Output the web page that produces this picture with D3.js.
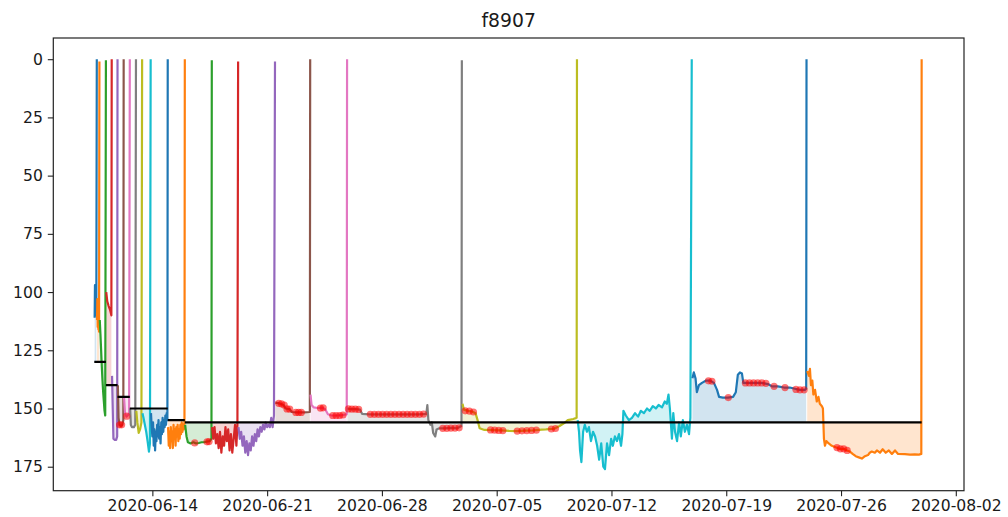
<!DOCTYPE html>
<html>
<head>
<meta charset="utf-8">
<script src="https://cdn.jsdelivr.net/npm/d3@7"></script>
<style>
  body { margin: 0; background: #fff; }
  text { font-family: "DejaVu Sans", sans-serif; }
</style>
</head>
<body>
<div id="chart"></div>
<script>
// each segment: [time, value]; a segment ends with a reset to ~0
var seg01 = [["2020-06-10 11:30",111],["2020-06-10 12:00",97],["2020-06-10 12:30",108],["2020-06-10 13:00",100],["2020-06-10 13:30",110],["2020-06-10 14:00",104],["2020-06-10 14:40",0]];
var seg02 = [["2020-06-10 15:00",112],["2020-06-10 15:30",103],["2020-06-10 16:00",115],["2020-06-10 16:30",108],["2020-06-10 17:00",116],["2020-06-10 17:30",112],["2020-06-10 18:00",117],["2020-06-10 18:30",1]];
var seg03 = [["2020-06-10 19:00",112],["2020-06-10 20:00",118],["2020-06-10 21:00",125],["2020-06-10 22:00",132],["2020-06-10 23:00",138],["2020-06-11 00:00",143],["2020-06-11 01:00",147],["2020-06-11 02:00",151],["2020-06-11 03:00",153],["2020-06-11 04:00",0.5]];
var seg04 = [["2020-06-11 04:30",100],["2020-06-11 06:00",104],["2020-06-11 08:00",106],["2020-06-11 10:00",107.5],["2020-06-11 12:00",110],["2020-06-11 12:30",0]];
var seg05 = [["2020-06-11 13:00",136],["2020-06-11 14:00",150],["2020-06-11 15:00",163],["2020-06-11 17:00",163.5],["2020-06-11 19:00",163.5],["2020-06-11 20:30",162],["2020-06-11 21:00",0]];
var seg06 = [["2020-06-11 21:30",140],["2020-06-11 22:30",154],["2020-06-12 00:00",157],["2020-06-12 02:00",157.5],["2020-06-12 04:00",157],["2020-06-12 05:30",155],["2020-06-12 06:00",0]];
var seg07 = [["2020-06-12 06:30",145],["2020-06-12 08:00",152],["2020-06-12 10:00",153.5],["2020-06-12 12:00",153],["2020-06-12 14:00",152],["2020-06-12 15:00",0]];
var seg08 = [["2020-06-12 15:30",150],["2020-06-12 16:30",157],["2020-06-12 18:00",158],["2020-06-12 21:00",158],["2020-06-12 23:00",157],["2020-06-13 00:00",0]];
var seg09 = [["2020-06-13 00:30",151],["2020-06-13 02:00",156],["2020-06-13 04:00",160.5],["2020-06-13 06:00",159],["2020-06-13 08:00",156],["2020-06-13 09:00",0]];
var seg10 = [["2020-06-13 09:30",152],["2020-06-13 11:00",154],["2020-06-13 13:00",157],["2020-06-13 15:00",160],["2020-06-13 17:00",164],["2020-06-13 19:00",168.5],["2020-06-13 20:30",165],["2020-06-13 21:30",0]];
var seg11 = [["2020-06-13 22:00",152],["2020-06-13 23:00",158],["2020-06-14 00:00",162],["2020-06-14 01:00",156],["2020-06-14 02:00",166],["2020-06-14 03:00",159],["2020-06-14 04:00",168],["2020-06-14 05:00",160],["2020-06-14 06:00",164],["2020-06-14 07:00",157],["2020-06-14 08:00",162],["2020-06-14 09:00",155],["2020-06-14 10:00",163],["2020-06-14 11:00",158],["2020-06-14 12:00",165],["2020-06-14 13:00",156],["2020-06-14 14:00",161],["2020-06-14 15:00",154],["2020-06-14 16:00",160],["2020-06-14 17:00",155],["2020-06-14 18:00",158],["2020-06-14 19:00",153],["2020-06-14 20:00",157],["2020-06-14 21:00",152],["2020-06-14 22:00",155],["2020-06-14 22:30",0]];
var seg12 = [["2020-06-14 23:00",158],["2020-06-15 00:00",166],["2020-06-15 01:00",160],["2020-06-15 02:00",167],["2020-06-15 03:00",158],["2020-06-15 04:00",164],["2020-06-15 05:00",160],["2020-06-15 06:00",167],["2020-06-15 07:00",157],["2020-06-15 08:00",163],["2020-06-15 09:00",159],["2020-06-15 10:00",166],["2020-06-15 11:00",158],["2020-06-15 12:00",162],["2020-06-15 13:00",157],["2020-06-15 14:00",164],["2020-06-15 15:00",159],["2020-06-15 16:00",163],["2020-06-15 17:00",157],["2020-06-15 18:00",161],["2020-06-15 19:00",156],["2020-06-15 20:00",160],["2020-06-15 21:00",157],["2020-06-15 22:00",159],["2020-06-15 23:00",156],["2020-06-15 23:30",0]];
var seg13 = [["2020-06-16 00:00",157],["2020-06-16 02:00",162],["2020-06-16 04:00",164.5],["2020-06-16 08:00",165],["2020-06-16 12:00",164.5],["2020-06-16 16:00",165],["2020-06-16 20:00",164.8],["2020-06-17 00:00",164.5],["2020-06-17 04:00",164.5],["2020-06-17 08:00",164.2],["2020-06-17 12:00",164],["2020-06-17 14:30",163],["2020-06-17 15:00",0.5]];
var seg14 = [["2020-06-17 15:30",158],["2020-06-17 17:00",163],["2020-06-17 19:00",158],["2020-06-17 21:00",165],["2020-06-17 23:00",161],["2020-06-18 01:00",167],["2020-06-18 03:00",160],["2020-06-18 05:00",169],["2020-06-18 07:00",162],["2020-06-18 09:00",166],["2020-06-18 11:00",158],["2020-06-18 13:00",164],["2020-06-18 15:00",159],["2020-06-18 17:00",168],["2020-06-18 19:00",161],["2020-06-18 21:00",169],["2020-06-18 23:00",163],["2020-06-19 01:00",157],["2020-06-19 03:00",166],["2020-06-19 04:30",157],["2020-06-19 05:30",1]];
var seg15 = [["2020-06-19 06:00",158],["2020-06-19 08:00",163],["2020-06-19 10:00",160],["2020-06-19 12:00",166],["2020-06-19 14:00",162],["2020-06-19 16:00",169],["2020-06-19 18:00",164],["2020-06-19 20:00",170],["2020-06-19 22:00",165],["2020-06-20 00:00",168],["2020-06-20 02:00",162],["2020-06-20 04:00",166],["2020-06-20 06:00",161],["2020-06-20 08:00",164],["2020-06-20 10:00",159],["2020-06-20 12:00",162],["2020-06-20 14:00",158],["2020-06-20 16:00",160],["2020-06-20 18:00",157],["2020-06-20 20:00",159],["2020-06-20 22:00",156],["2020-06-21 00:00",158],["2020-06-21 02:00",157],["2020-06-21 04:00",158],["2020-06-21 06:00",154],["2020-06-21 08:00",158],["2020-06-21 10:00",153],["2020-06-21 11:30",1]];
var seg16 = [["2020-06-21 12:00",147.5],["2020-06-21 18:00",147.8],["2020-06-22 00:00",148.5],["2020-06-22 03:00",150],["2020-06-22 09:00",150.3],["2020-06-22 12:00",151.5],["2020-06-22 20:00",151.7],["2020-06-23 06:00",151.7],["2020-06-23 14:30",151.5],["2020-06-23 15:00",0]];
var seg17 = [["2020-06-23 15:30",144],["2020-06-23 17:00",148.5],["2020-06-23 20:00",149.5],["2020-06-24 02:00",149.8],["2020-06-24 08:00",149.6],["2020-06-24 13:00",150.3],["2020-06-24 17:00",152.5],["2020-06-24 22:00",153],["2020-06-25 06:00",153],["2020-06-25 14:00",152.8],["2020-06-25 20:30",152.5],["2020-06-25 21:00",0]];
var seg18 = [["2020-06-25 21:30",150],["2020-06-26 02:00",150.3],["2020-06-26 10:00",150.3],["2020-06-26 16:00",150.5],["2020-06-26 19:00",152.3],["2020-06-27 06:00",152.5],["2020-06-27 18:00",152.5],["2020-06-28 06:00",152.5],["2020-06-28 18:00",152.5],["2020-06-29 06:00",152.5],["2020-06-29 18:00",152.5],["2020-06-30 06:00",152.5],["2020-06-30 17:00",152.3],["2020-06-30 18:30",148.5],["2020-06-30 20:00",155],["2020-06-30 23:00",157],["2020-07-01 01:00",156],["2020-07-01 03:00",160.5],["2020-07-01 06:00",162],["2020-07-01 08:00",159],["2020-07-01 12:00",158.5],["2020-07-01 20:00",158.5],["2020-07-02 06:00",158.3],["2020-07-02 14:00",158.5],["2020-07-02 20:30",157.5],["2020-07-02 21:00",0.5]];
var seg19 = [["2020-07-02 22:00",148],["2020-07-03 00:00",150.5],["2020-07-03 06:00",151],["2020-07-03 12:00",151.3],["2020-07-03 17:00",152],["2020-07-03 20:00",155],["2020-07-03 23:00",158.5],["2020-07-04 06:00",159.2],["2020-07-04 18:00",159.3],["2020-07-05 06:00",159.4],["2020-07-05 18:00",159.6],["2020-07-06 06:00",159.7],["2020-07-06 18:00",159.5],["2020-07-07 06:00",159.4],["2020-07-07 18:00",159.1],["2020-07-08 00:00",159],["2020-07-08 12:00",158.7],["2020-07-08 20:00",157.5],["2020-07-09 04:00",156],["2020-07-09 08:00",155],["2020-07-09 16:00",154.5],["2020-07-09 21:00",154],["2020-07-09 21:30",0]];
var seg20 = [["2020-07-09 22:30",155],["2020-07-10 00:30",160],["2020-07-10 02:00",168],["2020-07-10 04:00",173],["2020-07-10 06:30",160],["2020-07-10 09:00",157],["2020-07-10 12:00",160],["2020-07-10 15:00",158],["2020-07-10 18:00",164],["2020-07-10 21:00",160],["2020-07-11 00:00",162],["2020-07-11 03:00",166],["2020-07-11 06:00",172],["2020-07-11 09:00",165],["2020-07-11 12:00",175],["2020-07-11 14:30",176],["2020-07-11 17:30",165],["2020-07-11 20:30",170],["2020-07-11 23:30",163],["2020-07-12 02:00",166],["2020-07-12 05:00",162],["2020-07-12 08:00",164],["2020-07-12 11:00",161],["2020-07-12 14:00",166],["2020-07-12 16:00",161],["2020-07-12 17:30",151],["2020-07-12 21:00",153],["2020-07-13 01:30",155],["2020-07-13 06:00",154],["2020-07-13 10:30",152],["2020-07-13 15:00",153.5],["2020-07-13 19:00",151],["2020-07-13 23:30",152],["2020-07-14 04:00",150],["2020-07-14 08:00",151],["2020-07-14 12:30",149],["2020-07-14 17:00",150],["2020-07-14 21:00",148.5],["2020-07-15 02:00",149.5],["2020-07-15 06:00",147],["2020-07-15 09:00",148],["2020-07-15 11:30",144],["2020-07-15 13:30",150],["2020-07-15 16:30",163],["2020-07-15 18:30",152],["2020-07-15 21:00",160],["2020-07-16 00:00",164],["2020-07-16 03:00",156],["2020-07-16 05:30",162],["2020-07-16 08:30",155],["2020-07-16 11:30",160],["2020-07-16 14:30",157],["2020-07-16 17:30",161],["2020-07-16 19:30",154],["2020-07-16 21:30",0]];
var seg21 = [["2020-07-16 22:30",137],["2020-07-17 00:30",134.5],["2020-07-17 03:00",137],["2020-07-17 05:00",143],["2020-07-17 08:00",140],["2020-07-17 12:30",139],["2020-07-17 18:30",138],["2020-07-18 00:00",138],["2020-07-18 06:00",139],["2020-07-18 10:30",142],["2020-07-18 13:30",145],["2020-07-18 19:00",145.3],["2020-07-19 02:30",145.3],["2020-07-19 10:00",145],["2020-07-19 14:00",143],["2020-07-19 17:00",135.5],["2020-07-19 20:00",134.5],["2020-07-19 23:00",135],["2020-07-20 01:00",139],["2020-07-20 08:00",139],["2020-07-20 18:00",139],["2020-07-21 04:00",139],["2020-07-21 13:00",139.5],["2020-07-21 19:00",140.5],["2020-07-22 03:30",140.5],["2020-07-22 12:30",141],["2020-07-22 21:00",141],["2020-07-23 04:30",141.5],["2020-07-23 12:00",142],["2020-07-23 19:00",142],["2020-07-23 21:00",141.5],["2020-07-23 21:30",0]];
var seg22 = [["2020-07-23 22:30",134],["2020-07-24 01:00",136],["2020-07-24 02:30",133],["2020-07-24 04:00",140],["2020-07-24 06:00",138],["2020-07-24 07:30",144],["2020-07-24 10:00",142],["2020-07-24 12:30",147],["2020-07-24 15:00",145],["2020-07-24 17:00",148],["2020-07-24 20:00",149],["2020-07-24 21:30",150],["2020-07-24 23:00",163],["2020-07-25 00:30",166],["2020-07-25 02:30",164],["2020-07-25 06:00",165],["2020-07-25 10:30",166],["2020-07-25 15:00",166.5],["2020-07-25 19:00",167],["2020-07-26 00:00",167.5],["2020-07-26 04:00",167.3],["2020-07-26 08:30",168],["2020-07-26 13:00",168.5],["2020-07-26 17:00",169.5],["2020-07-26 21:30",170.5],["2020-07-27 02:00",171],["2020-07-27 06:30",171.5],["2020-07-27 11:00",170.5],["2020-07-27 15:30",170],["2020-07-27 18:00",169],["2020-07-27 21:00",168.5],["2020-07-28 01:30",169],["2020-07-28 04:30",168],["2020-07-28 09:00",169],["2020-07-28 13:00",167.5],["2020-07-28 17:30",169],["2020-07-28 22:00",168],["2020-07-29 02:30",169.5],["2020-07-29 07:00",168],["2020-07-29 11:30",169.5],["2020-07-29 21:30",169.6],["2020-07-30 05:00",169.8],["2020-07-30 12:00",169.7],["2020-07-30 18:00",169.8],["2020-07-30 21:30",169.5],["2020-07-30 22:00",0]];

// step threshold: value[i] holds from thrDates[i] to thrDates[i+1]
var thrDates = ["2020-06-10 11:00","2020-06-11 04:00","2020-06-11 21:00","2020-06-12 15:00","2020-06-14 22:30","2020-06-15 23:30","2020-07-30 22:00"];
var thrValues = [130, 140, 145, 150, 155, 156];

// flagged points (red)
var flagged = [["2020-06-12 00:00",157],["2020-06-12 03:00",157],["2020-06-12 10:30",153.3],
["2020-06-16 14:00",164.8],["2020-06-17 08:00",164.3],["2020-06-17 11:00",164.2],
["2020-06-21 17:00",147.8],["2020-06-21 21:00",148],["2020-06-22 01:00",148.5],["2020-06-22 05:00",150.2],["2020-06-22 09:00",150.3],["2020-06-22 18:00",151.7],["2020-06-22 22:00",151.7],["2020-06-23 02:00",151.7],
["2020-06-24 06:00",149.8],["2020-06-24 10:00",149.7],["2020-06-25 00:00",153],["2020-06-25 05:00",153],["2020-06-25 10:00",153],["2020-06-25 15:00",152.8],
["2020-06-25 23:00",150.2],["2020-06-26 04:00",150.3],["2020-06-26 09:00",150.3],["2020-06-26 14:00",150.4],
["2020-06-27 07:00",152.5],["2020-06-27 13:00",152.5],["2020-06-27 19:00",152.5],["2020-06-28 01:00",152.5],["2020-06-28 07:00",152.5],["2020-06-28 13:00",152.5],["2020-06-28 19:00",152.5],["2020-06-29 01:00",152.5],["2020-06-29 07:00",152.5],["2020-06-29 13:00",152.5],["2020-06-29 19:00",152.5],["2020-06-30 01:00",152.5],["2020-06-30 07:00",152.5],["2020-06-30 13:00",152.4],
["2020-07-01 17:00",158.5],["2020-07-01 23:00",158.5],["2020-07-02 05:00",158.4],["2020-07-02 11:00",158.4],["2020-07-02 17:00",158.3],
["2020-07-03 02:00",151],["2020-07-03 08:00",151.1],["2020-07-03 14:00",151.5],
["2020-07-04 15:00",159.2],["2020-07-04 21:00",159.3],["2020-07-05 03:00",159.4],["2020-07-05 09:00",159.5],
["2020-07-06 06:00",159.7],["2020-07-06 13:00",159.6],["2020-07-06 20:00",159.5],["2020-07-07 03:00",159.4],["2020-07-07 10:00",159.3],
["2020-07-08 08:00",158.8],["2020-07-08 14:00",158.6],
["2020-07-17 22:00",138.1],["2020-07-18 03:00",138.3],["2020-07-19 03:00",145.3],
["2020-07-20 04:00",139],["2020-07-20 10:00",139],["2020-07-20 16:00",139],["2020-07-20 22:00",139],["2020-07-21 04:00",139],["2020-07-21 10:00",139.2],["2020-07-21 22:00",140.5],["2020-07-22 14:00",141],["2020-07-23 06:00",141.8],["2020-07-23 12:00",142],["2020-07-23 18:00",142],
["2020-07-25 18:00",166.8],["2020-07-25 23:00",167.3],["2020-07-26 04:00",167.3],["2020-07-26 09:00",168]];

var xTickLabels = ["2020-06-14","2020-06-21","2020-06-28","2020-07-05","2020-07-12","2020-07-19","2020-07-26","2020-08-02"];
var yTickValues = [0, 25, 50, 75, 100, 125, 150, 175];
var title = "f8907";

var segments = [seg01,seg02,seg03,seg04,seg05,seg06,seg07,seg08,seg09,seg10,seg11,seg12,seg13,seg14,seg15,seg16,seg17,seg18,seg19,seg20,seg21,seg22];

var W = 1008, H = 517;
var plotL = 53.3, plotR = 964, plotT = 38, plotB = 490.7;

var parseT = d3.timeParse("%Y-%m-%d %H:%M");
var parseD = d3.timeParse("%Y-%m-%d");

var svg = d3.select("#chart")
  .append("svg")
    .attr("width", W)
    .attr("height", H);

var x = d3.scaleTime()
  .domain([parseT("2020-06-07 23:00"), parseT("2020-08-02 12:00")])
  .range([plotL, plotR]);

// inverted y axis
var y = d3.scaleLinear()
  .domain([-9.1, 185.3])
  .range([plotT, plotB]);

var colors = d3.schemeCategory10;

svg.append("defs").append("clipPath").attr("id", "clip")
  .append("rect")
    .attr("x", plotL).attr("y", plotT)
    .attr("width", plotR - plotL).attr("height", plotB - plotT);

var thrT = thrDates.map(parseT);
function thrAt(t) {
  var i = d3.bisectRight(thrT, t) - 1;
  i = Math.max(0, Math.min(thrValues.length - 1, i));
  return thrValues[i];
}

var plot = svg.append("g").attr("clip-path", "url(#clip)");

// fills between each segment and the threshold
segments.forEach(function(seg, k) {
  var pts = seg.slice(0, seg.length - 1).map(function(d) { return {t: parseT(d[0]), v: d[1]}; });
  plot.append("path")
    .datum(pts)
    .attr("fill", colors[k % 10])
    .attr("fill-opacity", 0.2)
    .attr("stroke", "none")
    .attr("d", d3.area()
      .x(function(d) { return x(d.t); })
      .y0(function(d) { return y(thrAt(d.t)); })
      .y1(function(d) { return y(d.v); }));
});

// segment lines
segments.forEach(function(seg, k) {
  plot.append("path")
    .datum(seg)
    .attr("fill", "none")
    .attr("stroke", colors[k % 10])
    .attr("stroke-width", 2.2)
    .attr("stroke-linejoin", "round")
    .attr("d", d3.line()
      .x(function(d) { return x(parseT(d[0])); })
      .y(function(d) { return y(d[1]); }));
});

// threshold steps
thrValues.forEach(function(v, i) {
  plot.append("line")
    .attr("x1", x(thrT[i]))
    .attr("x2", x(thrT[i + 1]))
    .attr("y1", y(v))
    .attr("y2", y(v))
    .attr("stroke", "black")
    .attr("stroke-width", 2.2);
});

// flagged points
plot.selectAll("circle.flag")
  .data(flagged)
  .enter().append("circle")
    .attr("class", "flag")
    .attr("cx", function(d) { return x(parseT(d[0])); })
    .attr("cy", function(d) { return y(d[1]); })
    .attr("r", 3.6)
    .attr("fill", "red")
    .attr("fill-opacity", 0.55);

// axes
var xAxis = svg.append("g")
  .attr("transform", "translate(0," + plotB + ")")
  .call(d3.axisBottom(x)
    .tickValues(xTickLabels.map(parseD))
    .tickFormat(d3.timeFormat("%Y-%m-%d"))
    .tickSize(5.5)
    .tickSizeOuter(0)
    .tickPadding(4));
xAxis.select(".domain").remove();
xAxis.selectAll(".tick line").attr("stroke", "#222").attr("stroke-width", 1.1);
xAxis.selectAll(".tick text")
  .attr("font-size", 15.6)
  .attr("font-family", "DejaVu Sans")
  .attr("fill", "#1a1a1a");

var yAxis = svg.append("g")
  .attr("transform", "translate(" + plotL + ",0)")
  .call(d3.axisLeft(y)
    .tickValues(yTickValues)
    .tickSize(5.5)
    .tickSizeOuter(0)
    .tickPadding(5));
yAxis.select(".domain").remove();
yAxis.selectAll(".tick line").attr("stroke", "#222").attr("stroke-width", 1.1);
yAxis.selectAll(".tick text")
  .attr("font-size", 15.6)
  .attr("font-family", "DejaVu Sans")
  .attr("fill", "#1a1a1a");

// frame
svg.append("rect")
  .attr("x", plotL).attr("y", plotT)
  .attr("width", plotR - plotL).attr("height", plotB - plotT)
  .attr("fill", "none")
  .attr("stroke", "#222")
  .attr("stroke-width", 1.2);

svg.append("text")
  .attr("x", (plotL + plotR) / 2)
  .attr("y", 27)
  .attr("text-anchor", "middle")
  .attr("font-size", 18.8)
  .attr("fill", "#1a1a1a")
  .text(title);
</script>
</body>
</html>
